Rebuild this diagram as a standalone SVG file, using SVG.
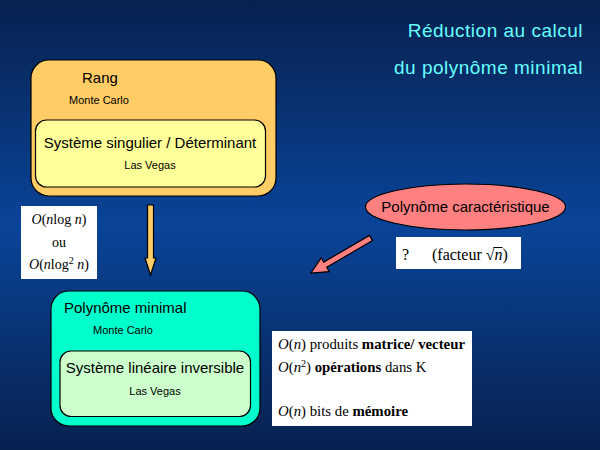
<svg xmlns="http://www.w3.org/2000/svg" width="600" height="450" viewBox="0 0 600 450">
<defs>
<linearGradient id="bg" x1="0" y1="0" x2="0" y2="1">
<stop offset="0" stop-color="#07214f"/>
<stop offset="0.5" stop-color="#0a4498"/>
<stop offset="1" stop-color="#07214f"/>
</linearGradient>
<style>
.sans{font-family:"Liberation Sans",Arial,sans-serif;fill:#000}
.serif{font-family:"Liberation Serif","Times New Roman",serif;fill:#000;font-size:14px}
.serif2{font-size:14.8px}
.serif3{font-size:16px}
.title{font-family:"Liberation Sans",Arial,sans-serif;fill:#66ffff;font-size:19px;letter-spacing:0.5px;text-anchor:end}
.big{font-size:15px}
.small{font-size:11px}
.box{stroke:#000;stroke-width:1.2}
.white{fill:#fff}
.it{font-style:italic}
.b{font-weight:bold}
</style>
</defs>
<rect width="600" height="450" fill="url(#bg)"/>
<g id="title">
<text class="title" x="583" y="37">Réduction au calcul</text>
<text class="title" x="583" y="74">du polynôme minimal</text>
</g>
<g id="rang">
<rect class="box" x="31" y="60" width="245" height="136" rx="18" fill="#ffcc66"/>
<text class="sans big" x="82" y="83">Rang</text>
<text class="sans small" x="69" y="104">Monte Carlo</text>
</g>
<g id="singulier">
<rect class="box" x="35.5" y="120" width="230" height="67" rx="11" fill="#ffff99"/>
<text class="sans big" x="150" y="148" text-anchor="middle">Système singulier / Déterminant</text>
<text class="sans small" x="150" y="169" text-anchor="middle">Las Vegas</text>
</g>
<g id="complexite1">
<rect class="white" x="21" y="206" width="76" height="73"/>
<text class="serif" x="59" y="224" text-anchor="middle"><tspan class="it">O</tspan>(<tspan class="it">n</tspan>log <tspan class="it">n</tspan>)</text>
<text class="serif" x="59" y="247" text-anchor="middle">ou</text>
<text class="serif" x="59" y="269" text-anchor="middle"><tspan class="it">O</tspan>(<tspan class="it">n</tspan>log<tspan dy="-5" font-size="10">2</tspan><tspan dy="5"> </tspan><tspan class="it">n</tspan>)</text>
</g>
<g id="caracteristique">
<ellipse class="box" cx="465.5" cy="207" rx="100" ry="23" fill="#ff8080"/>
<text class="sans big" x="465.5" y="212" text-anchor="middle">Polynôme caractéristique</text>
</g>
<g id="facteur">
<rect class="white" x="396" y="237" width="125" height="32"/>
<text class="serif serif3" x="402" y="260">?</text>
<text class="serif serif3" x="432" y="260">(facteur √<tspan class="it">n</tspan>)</text>
<line x1="493.5" y1="247.5" x2="502.5" y2="247.5" stroke="#000" stroke-width="1"/>
</g>
<g id="minimal">
<rect class="box" x="51" y="291" width="209" height="135" rx="18" fill="#00ffcc"/>
<text class="sans big" x="64" y="313">Polynôme minimal</text>
<text class="sans small" x="93" y="334">Monte Carlo</text>
</g>
<g id="lineaire">
<rect class="box" x="60" y="351" width="190.5" height="65.5" rx="11" fill="#ccffcc"/>
<text class="sans big" x="155" y="373" text-anchor="middle">Système linéaire inversible</text>
<text class="sans small" x="155" y="395" text-anchor="middle">Las Vegas</text>
</g>
<g id="complexite2">
<rect class="white" x="272" y="331" width="200" height="95"/>
<text class="serif serif2" x="278" y="349"><tspan class="it">O</tspan>(<tspan class="it">n</tspan>) produits <tspan class="b">matrice/ vecteur</tspan></text>
<text class="serif serif2" x="278" y="372"><tspan class="it">O</tspan>(<tspan class="it">n</tspan><tspan dy="-5" font-size="10">2</tspan><tspan dy="5">) </tspan><tspan class="b">opérations</tspan> dans K</text>
<text class="serif serif2" x="278" y="416"><tspan class="it">O</tspan>(<tspan class="it">n</tspan>) bits de <tspan class="b">mémoire</tspan></text>
</g>
<g id="connectors">
<polygon class="box" fill="#ffcc66" points="147.5,205 153.5,205 153.5,258 156,258 150.5,275 145,258 147.5,258"/>
<polygon class="box" fill="#ff8080" transform="translate(371,238) rotate(149.74)" points="0,-3 53,-3 53,-8 69.5,0 53,8 53,3 0,3"/>
</g>
</svg>
